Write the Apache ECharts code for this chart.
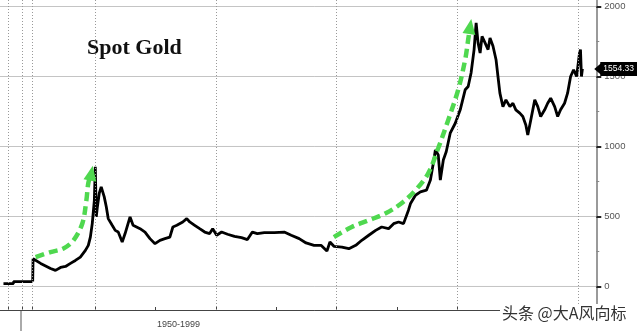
<!DOCTYPE html>
<html>
<head>
<meta charset="utf-8">
<script src="https://cdn.jsdelivr.net/npm/echarts@6/dist/echarts.min.js"></script>
<style>html,body{margin:0;padding:0;background:#fff;}#c{width:640px;height:331px;}</style>
</head>
<body>
<div id="c"></div>
<script>
// ---- data ----
const histYears = [1916, 1934, 1934, 1967];
const histPrices = [20.67, 20.67, 35, 35];

const goldYears = [1974.81,1974.84,1975.47,1976.29,1976.70,1977.12,1977.53,1977.94,1978.35,1978.76,
1979.18,1979.42,1979.59,1979.75,1979.92,1980.00,1980.08,1980.16,1980.33,1980.49,
1980.74,1980.91,1981.07,1981.40,1981.65,1981.90,1982.23,1982.47,1982.88,1983.13,
1983.71,1984.12,1984.53,1984.95,1985.36,1985.77,1986.18,1986.43,1986.76,1987.25,
1987.58,1987.83,1988.24,1988.65,1989.07,1989.48,1989.73,1990.06,1990.47,1990.96,
1991.54,1992.12,1992.61,1993.02,1993.43,1994.01,1994.84,1995.66,1996.24,1996.90,
1997.47,1998.13,1998.71,1999.20,1999.45,1999.78,2000.44,2001.02,2001.59,2002.09,
2002.67,2003.24,2003.74,2004.31,2004.73,2005.14,2005.55,2005.96,2006.13,2006.54,
2006.95,2007.45,2007.78,2008.02,2008.19,2008.43,2008.60,2008.85,2009.09,2009.42,
2009.84,2010.25,2010.66,2010.91,2011.15,2011.40,2011.57,2011.73,2011.90,2012.06,
2012.31,2012.56,2012.72,2012.97,2013.22,2013.38,2013.54,2013.79,2014.04,2014.37,
2014.62,2014.86,2015.19,2015.44,2015.69,2015.85,2016.10,2016.43,2016.68,2016.92,
2017.25,2017.50,2017.75,2018.08,2018.33,2018.57,2018.90,2019.15,2019.40,2019.65,
2019.90,2020.14,2020.22,2020.30,2020.38];
const goldPrices = [35,198,165,129,115,136,143,165,186,210,
258,294,353,451,616,855,497,560,667,712,
640,569,485,437,401,389,318,378,497,437,
413,389,342,306,330,342,353,425,437,461,
485,461,437,413,389,378,413,366,389,373,
358,349,335,389,378,385,385,389,366,342,
311,294,294,253,318,287,282,270,294,330,
366,401,425,413,449,461,449,545,593,652,
676,688,760,880,975,939,760,903,963,1095,
1166,1262,1405,1429,1525,1692,1883,1740,1668,1787,
1740,1692,1776,1716,1620,1500,1381,1285,1333,1285,
1309,1262,1238,1214,1154,1082,1190,1333,1285,1214,
1262,1309,1345,1285,1214,1262,1309,1381,1500,1548,
1500,1668,1692,1500,1554.33];

const arrow1Years = [1975.05,1976.29,1977.36,1978.19,1978.93,1979.26,1979.42,1979.67];
const arrow1Values = [210,246,272,330,452,616,738,810];
const arrow2Years = [1999.78,2001.26,2002.67,2004.07,2005.39,2006.54,2007.61,2008.43,2009.26,2010.08,2010.66,2010.91,2011.07];
const arrow2Values = [353,425,473,523,595,688,810,989,1190,1405,1620,1763,1857];

const yLabelValues = [0,500,1000,1500,2000];
const yMinorTicks = [0,250,500,750,1000,1250,1500,1750,2000];
const xTickYears = [1980,1985,1990,1995,2000,2005,2010,2015,2020];
const xGridYears = [1980,1990,2000,2010,2020];
const histTickYears = [1925,1950,1967];
const lastPrice = 1554.33;
const titleText = 'Spot Gold';
const rangeLabel = '1950-1999';
const watermark = '头条 @大A风向标';

// ---- chart ----
const pairs = (xs, ys) => xs.map((x, i) => [x, ys[i]]);
const Y_MIN = -167.86, Y_MAX = 2046.43;
const X0_MIN = 1909.8, X0_MAX = 1967.0;
const X1_MIN = 1974.752, X1_MAX = 2021.529;
const GRID_COLOR = '#999';
const GRID_DASH = [1, 2];
const green = '#4fd84f';

function vLines(xVals) {
  return {
    silent: true, symbol: ['none', 'none'], label: {show: false}, animation: false,
    lineStyle: {type: GRID_DASH, color: GRID_COLOR, width: 1}, emphasis: {disabled: true},
    data: xVals.map(v => ({xAxis: v}))
  };
}
// horizontal grid lines as plain line series across each grid
function hLineSeries(gridIdx, xMin, xMax) {
  return yLabelValues.map(v => ({
    type: 'line', xAxisIndex: gridIdx, yAxisIndex: gridIdx, z: 1, silent: true,
    data: [[xMin, v], [xMax, v]], symbol: 'none',
    lineStyle: {type: 'solid', color: '#c4c4c4', width: 1}
  }));
}

function arrowSeries(xs, ys, rot) {
  const n = xs.length;
  return {
    type: 'line', xAxisIndex: 1, yAxisIndex: 1, z: 5, smooth: 0.35,
    data: pairs(xs, ys),
    symbol: (v, p) => p.dataIndex === n - 1 ? 'triangle' : 'none',
    symbolSize: [13, 15], symbolRotate: rot,
    itemStyle: {color: green},
    lineStyle: {color: green, width: 4.5, type: [9, 5]},
    silent: true, animation: false
  };
}

const chart = echarts.init(document.getElementById('c'), null, {renderer: 'canvas'});
chart.setOption({
  animation: false,
  backgroundColor: '#fff',
  grid: [
    {left: 0, width: 32, top: 0, bottom: 21},
    {left: 32, right: 42, top: 0, bottom: 21}
  ],
  xAxis: [
    {gridIndex: 0, type: 'value', min: X0_MIN, max: X0_MAX,
     axisLine: {onZero: false, lineStyle: {color: '#444', width: 1}},
     axisTick: {customValues: histTickYears, inside: true, length: 3, lineStyle: {color: '#444'}},
     axisLabel: {show: false}, splitLine: {show: false}},
    {gridIndex: 1, type: 'value', min: X1_MIN, max: X1_MAX,
     axisLine: {onZero: false, lineStyle: {color: '#444', width: 1}},
     axisTick: {customValues: xTickYears, inside: true, length: 3, lineStyle: {color: '#444'}},
     axisLabel: {show: false}, splitLine: {show: false}}
  ],
  yAxis: [
    {gridIndex: 0, type: 'value', min: Y_MIN, max: Y_MAX, show: false, splitLine: {show: false}},
    {gridIndex: 1, type: 'value', position: 'right', min: Y_MIN, max: Y_MAX,
     axisLine: {show: true, lineStyle: {color: '#9a9a9a', width: 2}},
     axisTick: {customValues: yMinorTicks, length: 3, lineStyle: {color: '#888'}},
     axisLabel: {customValues: yLabelValues, formatter: v => String(v), margin: 8, color: '#555',
       fontSize: 9.5, fontFamily: 'Liberation Sans'},
     splitLine: {show: false}},
    {gridIndex: 1, type: 'value', position: 'right', min: Y_MIN, max: Y_MAX,
     axisLine: {show: false},
     axisTick: {customValues: yLabelValues, length: 5, lineStyle: {color: '#222', width: 2}},
     axisLabel: {show: false}, splitLine: {show: false}},
    {gridIndex: 1, type: 'value', position: 'right', min: Y_MIN, max: Y_MAX,
     axisLine: {show: false}, axisTick: {show: false},
     axisLabel: {customValues: [lastPrice], formatter: v => Number(v).toFixed(2), margin: 4,
       color: '#fff', backgroundColor: '#000', padding: [3, 3, 2, 3], fontSize: 8.5, fontFamily: 'Liberation Sans'},
     splitLine: {show: false}}
  ],
  series: [
    // vertical grid lines (drawn beneath the price line)
    {type: 'line', xAxisIndex: 0, yAxisIndex: 0, z: 1, data: pairs(histYears, histPrices),
     symbol: 'none', lineStyle: {opacity: 0}, silent: true,
     markLine: vLines(histTickYears)},
    {type: 'line', xAxisIndex: 1, yAxisIndex: 1, z: 1, data: pairs(goldYears, goldPrices),
     symbol: 'none', lineStyle: {opacity: 0}, silent: true,
     markLine: vLines(xGridYears)},
    ...hLineSeries(0, X0_MIN, X0_MAX),
    ...hLineSeries(1, X1_MIN, X1_MAX),
    // prices
    {type: 'line', xAxisIndex: 0, yAxisIndex: 0, data: pairs(histYears, histPrices),
     symbol: 'none', lineStyle: {color: '#000', width: 2.6}, z: 4},
    {type: 'line', xAxisIndex: 1, yAxisIndex: 1, data: pairs(goldYears, goldPrices),
     symbol: 'none', lineStyle: {color: '#000', width: 2.8}, z: 4},
    arrowSeries(arrow1Years, arrow1Values, -11),
    arrowSeries(arrow2Years, arrow2Values, -9)
  ]
});

const toPx = (x, y) => chart.convertToPixel({gridIndex: 1}, [x, y]);
const tagY = toPx(2000, lastPrice)[1];
const axisX = toPx(X1_MAX, 0)[0];
chart.setOption({
  graphic: [
    {type: 'text', left: 87, top: 37, style: {text: titleText, fill: '#111',
      font: 'bold 22px "Liberation Serif", serif'}},
    {type: 'text', left: 157, top: 320, style: {text: rangeLabel, fill: '#444',
      font: '9px "Liberation Sans", sans-serif'}},
    {type: 'rect', left: 20, top: 310, shape: {width: 2, height: 21}, style: {fill: '#aaa'}},
    {type: 'polygon', z: 100, shape: {points: [[axisX - 2, tagY], [axisX + 5, tagY - 6], [axisX + 5, tagY + 6]]},
      style: {fill: '#000'}},
    {type: 'text', left: 500, top: 304, z: 100, style: {text: watermark, fill: '#333',
      font: '16px "Noto Sans CJK SC", sans-serif', backgroundColor: '#fff', padding: [1, 2]}}
  ]
});
</script>
</body>
</html>
